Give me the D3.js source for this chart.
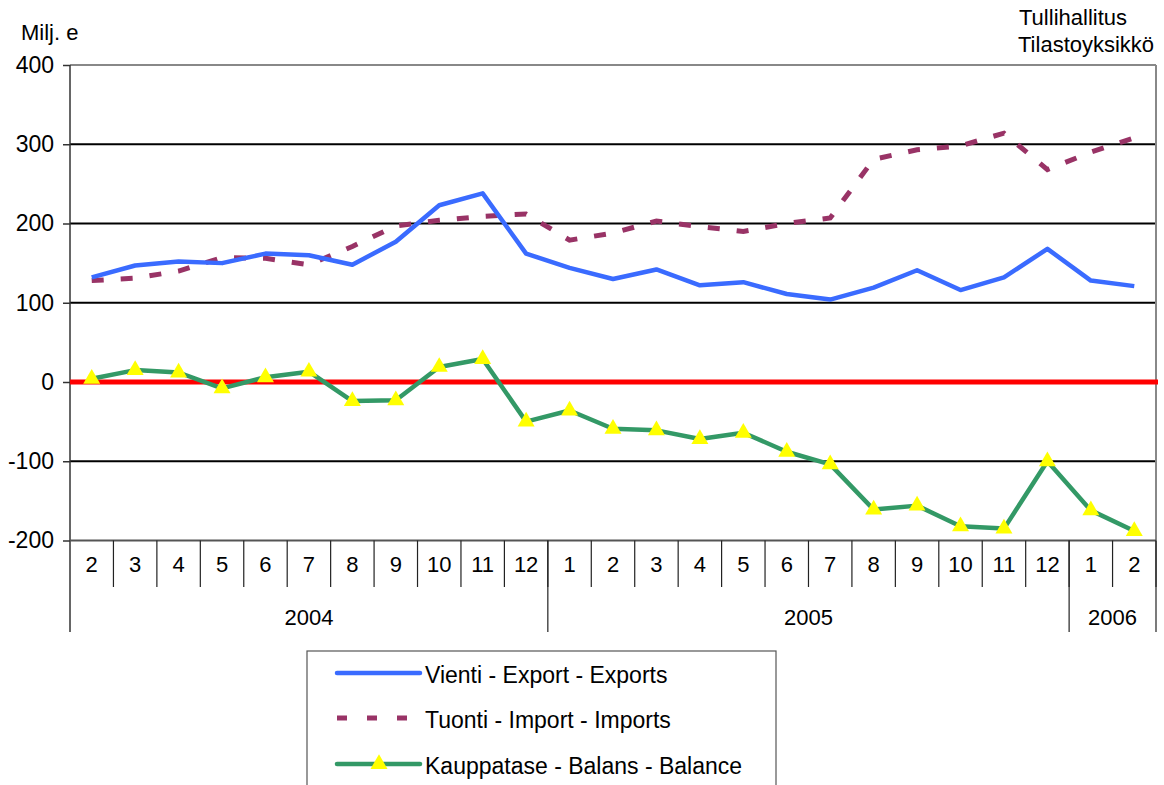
<!DOCTYPE html>
<html>
<head>
<meta charset="utf-8">
<script src="https://cdn.jsdelivr.net/npm/d3@7"></script>
<style>
  html, body { margin: 0; padding: 0; background: #fff; }
  svg text { font-family: "Liberation Sans", Arial, sans-serif; fill: #000; }
</style>
</head>
<body>
<svg id="chart" width="1164" height="785"></svg>
<script>
const months = [2,3,4,5,6,7,8,9,10,11,12,1,2,3,4,5,6,7,8,9,10,11,12,1,2];
const yearLabels = ["2004","2005","2006"];
const yearCounts = [11,12,2];
const exportsVals = [132,147,152,150,162,160,148,177,223,238,162,144,130,142,122,126,111,104,119,141,116,132,168,128,121];
const importsVals = [128,131,140,157,156,148,171,197,204,209,212,179,188,203,196,190,200,207,281,293,298,314,268,290,308];
const balanceVals = [4,15,12,-8,6,13,-24,-23,19,29,-50,-36,-59,-61,-72,-64,-88,-104,-161,-156,-182,-185,-100,-162,-188];
const yTicks = [-200,-100,0,100,200,300,400];
const seriesNames = ["Vienti - Export - Exports","Tuonti - Import - Imports","Kauppatase - Balans - Balance"];

(function () {
const FS = "22px", FL = "23px";
const svg = d3.select("#chart");
const pLeft = 70, pRight = 1156, pTop = 65, pBottom = 540.5;
const idx = d3.range(months.length);
const x = d3.scaleBand().domain(idx).range([pLeft, pRight]).padding(0);
const y = d3.scaleLinear().domain([-200, 400]).range([pBottom, pTop]);
const cx = i => x(i) + x.bandwidth() / 2;

// gridlines
svg.append("g").selectAll("line").data(yTicks.filter(t => t > -200 && t < 400)).join("line")
  .attr("x1", pLeft).attr("x2", pRight).attr("y1", d => y(d)).attr("y2", d => y(d))
  .attr("stroke", "#000").attr("stroke-width", 2);
svg.append("line").attr("x1", pLeft).attr("x2", pRight).attr("y1", y(400)).attr("y2", y(400))
  .attr("stroke", "#888").attr("stroke-width", 2);
svg.append("line").attr("x1", pRight).attr("x2", pRight).attr("y1", y(400)).attr("y2", pBottom)
  .attr("stroke", "#888").attr("stroke-width", 2);

// y axis
const yAxis = d3.axisLeft(y).tickValues(yTicks).tickFormat(d => String(d)).tickSize(7).tickPadding(9);
const gy = svg.append("g").attr("transform", `translate(${pLeft},0)`).call(yAxis);
gy.select(".domain").remove();
gy.selectAll(".tick line").attr("stroke", "#333").attr("stroke-width", 1.5);
gy.selectAll(".tick text").style("font-size", FL).style("font-family", "Liberation Sans, Arial, sans-serif").attr("fill", "#000");
svg.append("line").attr("x1", pLeft).attr("x2", pLeft).attr("y1", pTop).attr("y2", 632)
  .attr("stroke", "#333").attr("stroke-width", 1.5);

svg.append("line").attr("x1", pLeft).attr("x2", pRight).attr("y1", pBottom).attr("y2", pBottom)
  .attr("stroke", "#555").attr("stroke-width", 2);

// month labels & dividers
const xAxis = d3.axisBottom(x).tickFormat(i => months[i]).tickSize(0).tickPadding(16);
const gx = svg.append("g").attr("transform", `translate(0,${pBottom})`).call(xAxis);
gx.select(".domain").remove();
gx.selectAll(".tick text").style("font-size", FS).style("font-family", "Liberation Sans, Arial, sans-serif").attr("fill", "#000");
svg.append("g").selectAll("line").data(d3.range(1, months.length + 1)).join("line")
  .attr("x1", i => x.step() * i + pLeft).attr("x2", i => x.step() * i + pLeft)
  .attr("y1", pBottom).attr("y2", 587).attr("stroke", "#222").attr("stroke-width", 1.2);

// year labels & separators
let acc = 0;
yearLabels.forEach((lab, k) => {
  const s = acc, e = acc + yearCounts[k];
  const xs = pLeft + x.step() * s, xe = pLeft + x.step() * e;
  svg.append("text").attr("x", (xs + xe) / 2).attr("y", 625).attr("text-anchor", "middle")
    .style("font-size", FS).text(lab);
  svg.append("line").attr("x1", xe).attr("x2", xe).attr("y1", pBottom).attr("y2", 632)
    .attr("stroke", "#222").attr("stroke-width", 1.2);
  acc = e;
});

// zero line
svg.append("line").attr("x1", pLeft).attr("x2", pRight + 2).attr("y1", y(0)).attr("y2", y(0))
  .attr("stroke", "#ff0000").attr("stroke-width", 5);

const line = d3.line().x((d, i) => cx(i)).y(d => y(d));
svg.append("path").datum(importsVals).attr("d", line).attr("fill", "none")
  .attr("stroke", "#993366").attr("stroke-width", 5).attr("stroke-dasharray", "12,17");
svg.append("path").datum(exportsVals).attr("d", line).attr("fill", "none")
  .attr("stroke", "#3a6bff").attr("stroke-width", 4.5).attr("stroke-linejoin", "round");
svg.append("path").datum(balanceVals).attr("d", line).attr("fill", "none")
  .attr("stroke", "#339966").attr("stroke-width", 4.5).attr("stroke-linejoin", "round");
const tri = d3.symbol(d3.symbolTriangle, 125);
svg.append("g").selectAll("path").data(balanceVals).join("path")
  .attr("d", tri).attr("transform", (d, i) => `translate(${cx(i)},${y(d)})`)
  .attr("fill", "#ffff00");

// titles
svg.append("text").attr("x", 21).attr("y", 40).style("font-size", FS).text("Milj. e");
svg.append("text").attr("x", 1019).attr("y", 25).style("font-size", FS).text("Tullihallitus");
svg.append("text").attr("x", 1018).attr("y", 52).style("font-size", FS).text("Tilastoyksikkö");

// legend
svg.append("rect").attr("x", 307).attr("y", 651).attr("width", 469).attr("height", 150)
  .attr("fill", "#fff").attr("stroke", "#555").attr("stroke-width", 1.2);
const ly = [673, 718, 764];
svg.append("line").attr("x1", 337).attr("x2", 420).attr("y1", ly[0]).attr("y2", ly[0])
  .attr("stroke", "#3a6bff").attr("stroke-width", 4.5).attr("stroke-linecap", "round");
svg.append("line").attr("x1", 337).attr("x2", 420).attr("y1", ly[1]).attr("y2", ly[1])
  .attr("stroke", "#993366").attr("stroke-width", 5).attr("stroke-dasharray", "10,20");
svg.append("line").attr("x1", 337).attr("x2", 420).attr("y1", ly[2]).attr("y2", ly[2])
  .attr("stroke", "#339966").attr("stroke-width", 4.5).attr("stroke-linecap", "round");
svg.append("path").attr("d", tri).attr("transform", `translate(379,${ly[2]})`).attr("fill", "#ffff00");
seriesNames.forEach((n, k) => {
  svg.append("text").attr("x", 425).attr("y", ly[k] + 10).style("font-size", FL).text(n);
});
})();
</script>
</body>
</html>
